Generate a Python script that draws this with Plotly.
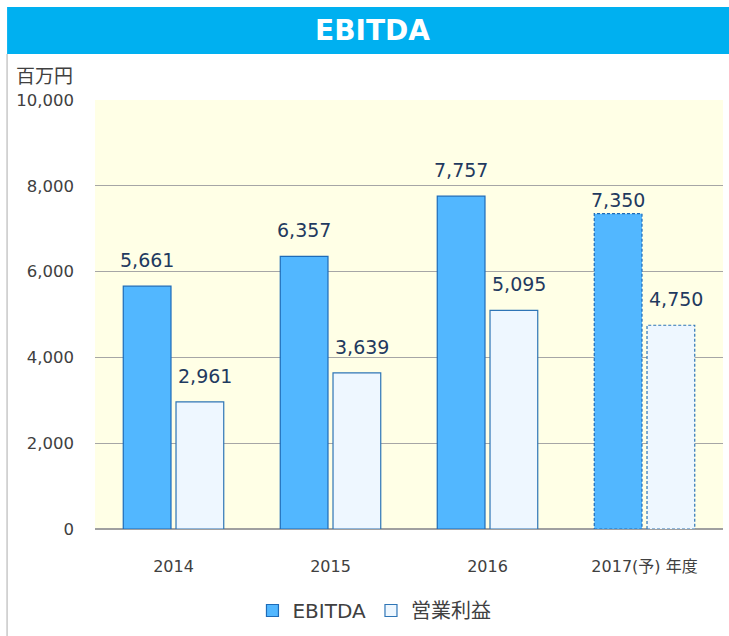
import plotly.graph_objects as go

categories = ["2014", "2015", "2016", "2017(予) 年度"]
ebitda = [5661, 6357, 7757, 7350]
op_income = [2961, 3639, 5095, 4750]
forecast = [False, False, False, True]
y_ticks = [0, 2000, 4000, 6000, 8000, 10000]

x_pos = list(range(len(categories)))
BAR_W = 0.304
OFF_A = -0.32
OFF_B = 0.016

EB_FILL = "#52B7FF"
EB_LINE = "#1E6BB8"
OP_FILL = "#EEF7FF"
OP_LINE = "#2E75B6"
LABEL_C = "#1F3A5F"
FONT = "DejaVu Sans, Verdana, sans-serif"
MIX = "DejaVu Sans, Noto Sans CJK JP, sans-serif"

fig = go.Figure()
fig.add_trace(go.Bar(
    x=x_pos, y=ebitda, name="EBITDA", width=BAR_W, offset=OFF_A,
    marker=dict(color=EB_FILL, line=dict(color=EB_LINE,
                width=[0 if f else 1.2 for f in forecast])),
))
fig.add_trace(go.Bar(
    x=x_pos, y=op_income, name="営業利益", width=BAR_W, offset=OFF_B,
    marker=dict(color=OP_FILL, line=dict(color=OP_LINE,
                width=[0 if f else 1.2 for f in forecast])),
))

shapes = []
annotations = []
for xi, a, b, f in zip(x_pos, ebitda, op_income, forecast):
    for off, v, lc, xs in ((OFF_A, a, EB_LINE, 0), (OFF_B, b, OP_LINE, 5)):
        if f:
            shapes.append(dict(type="rect", xref="x", yref="y",
                               x0=xi + off, x1=xi + off + BAR_W, y0=0, y1=v,
                               line=dict(color=lc, width=1.2, dash="3px,2px"),
                               fillcolor="rgba(0,0,0,0)", layer="above"))
        annotations.append(dict(x=xi + off + BAR_W / 2, y=v, xref="x", yref="y",
                                text=f"{v:,}", showarrow=False, yanchor="bottom",
                                yshift=1 if (f and xs == 0) else 13, xshift=xs,
                                font=dict(family=FONT, size=19, color=LABEL_C)))

# title bar and frame
shapes.append(dict(type="rect", xref="paper", yref="paper",
                   x0=-0.140, x1=1.02, y0=1.1072, y1=1.2168,
                   fillcolor="#00B0F0", line=dict(width=0), layer="below"))
shapes.append(dict(type="line", xref="paper", yref="paper",
                   x0=-0.140, x1=-0.140, y0=-0.26, y1=1.1072,
                   line=dict(color="#C8C8C8", width=1.5)))
annotations.append(dict(x=0.4411, y=1.162, xref="paper", yref="paper",
                        text="<b>EBITDA</b>", showarrow=False,
                        xanchor="center", yanchor="middle",
                        font=dict(family=FONT, size=28, color="white")))
annotations.append(dict(x=-0.032, y=1.06, xref="paper", yref="paper",
                        text="百万円", showarrow=False, xanchor="right", yanchor="middle",
                        font=dict(family="Noto Sans CJK JP", size=19, color="#404040")))

fig.update_layout(
    width=729, height=636,
    margin=dict(l=95, r=6, t=100, b=107, autoexpand=False),
    paper_bgcolor="white", plot_bgcolor="#FFFFE6",
    barmode="overlay",
    shapes=shapes, annotations=annotations,
    showlegend=True,
    legend=dict(orientation="h", x=0.445, xanchor="center", y=-0.19, yanchor="middle",
                font=dict(family=MIX, size=20, color="#404040"),
                itemwidth=30, traceorder="normal"),
    font=dict(family=FONT, color="#404040"),
)
fig.update_xaxes(
    tickvals=x_pos, ticktext=categories, range=[-0.5, 3.5],
    showgrid=False, zeroline=False, showline=False,
    ticks="", ticklabelstandoff=26,
    tickfont=dict(family=MIX, size=16, color="#404040"),
)
fig.update_yaxes(
    range=[0, 10000], tickvals=y_ticks, tickformat=",",
    showgrid=True, gridcolor="#A6A6A6", gridwidth=1,
    zeroline=True, zerolinecolor="#A0A0A0", zerolinewidth=1.5,
    showline=False, ticks="", ticklabelstandoff=20,
    tickfont=dict(family=FONT, size=16.5, color="#404040"),
)

fig.write_html("out.html", config={"displayModeBar": False},
               post_script="document.body.style.margin='0';")
